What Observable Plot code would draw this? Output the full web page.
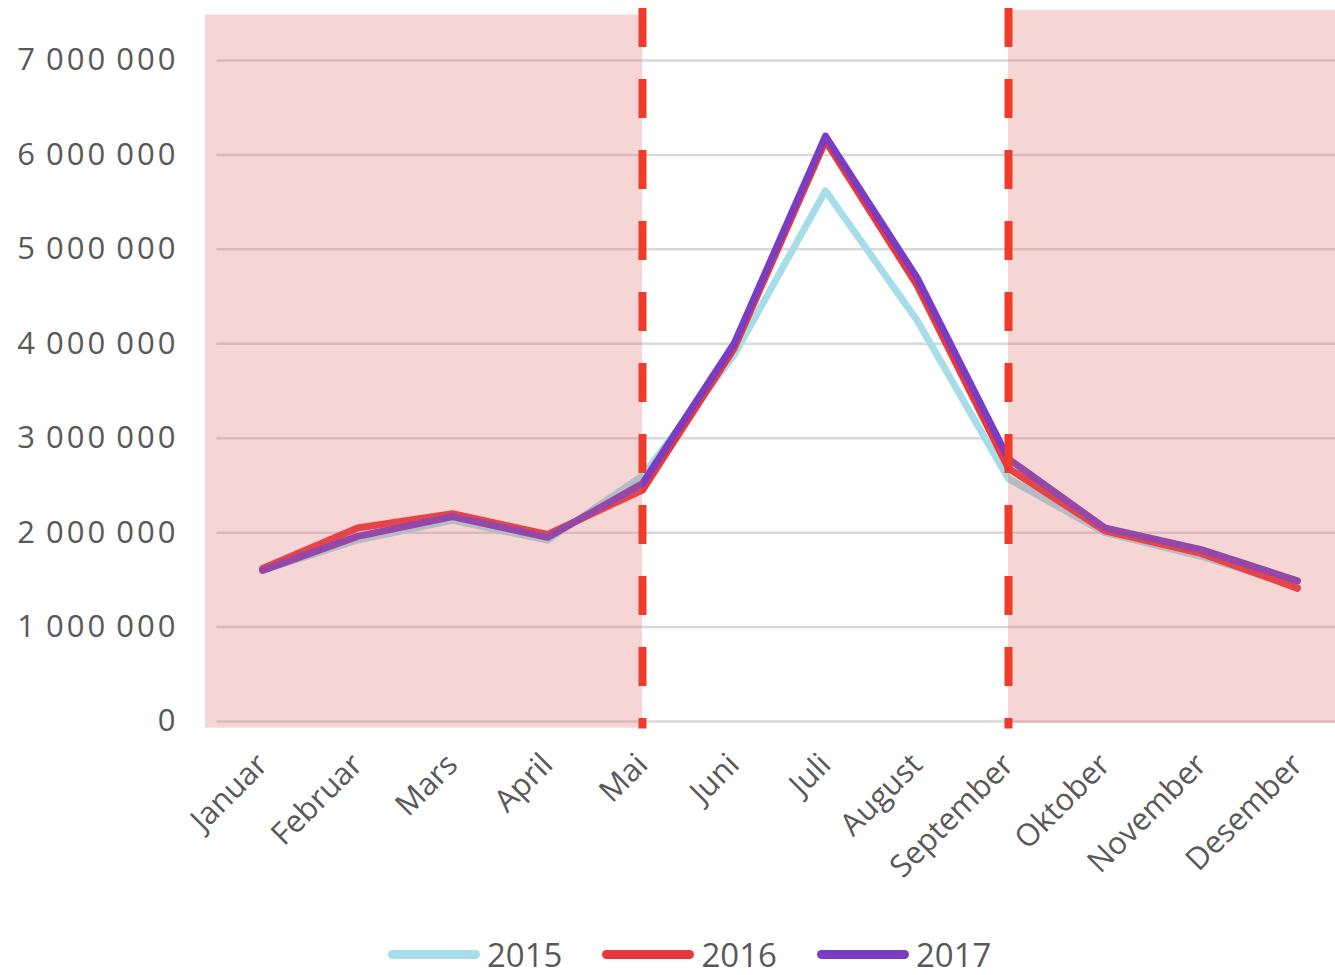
<!DOCTYPE html>
<html><head><meta charset="utf-8">
<script src="https://cdn.jsdelivr.net/npm/d3@7"></script>
<script src="https://cdn.jsdelivr.net/npm/@observablehq/plot@0.6"></script>
<style>
body{margin:0;background:#fff;}
#chart{position:relative;width:1335px;height:975px;}
#legend{position:absolute;left:388px;top:929px;height:50px;display:flex;align-items:center;font-family:"Open Sans";font-size:33px;color:#595959;}
.item{display:flex;align-items:center;margin-right:40px}
.sw{width:92px;height:9px;border-radius:5px;margin-right:7px}
g[aria-label="y-axis tick label"]{letter-spacing:3px}
</style></head><body><div id="chart"></div>
<script>
const months = ["Januar","Februar","Mars","April","Mai","Juni","Juli","August","September","Oktober","November","Desember"];
const years = ["2015","2016","2017"];
const colors = ["#A6DDE8","#E8383D","#7A3CC2"];
const v2015 = [1.60e6,1.92e6,2.13e6,1.92e6,2.60e6,3.88e6,5.62e6,4.25e6,2.57e6,2.00e6,1.75e6,1.43e6];
const v2016 = [1.62e6,2.05e6,2.20e6,1.98e6,2.45e6,3.95e6,6.15e6,4.62e6,2.68e6,2.02e6,1.78e6,1.41e6];
const v2017 = [1.60e6,1.96e6,2.17e6,1.95e6,2.52e6,4.00e6,6.20e6,4.70e6,2.78e6,2.05e6,1.82e6,1.49e6];
const yTicks = [0,1e6,2e6,3e6,4e6,5e6,6e6,7e6];
const shadeFrom = [-0.6, 8];
const shadeTo = [4, 11.4];
const shadeTop = [7.48e6, 7.53e6];
const shadeBottom = [-0.07e6, -0.02e6];
const dividers = ["Mai","September"];

const series = [v2015, v2016, v2017];
const rows = years.flatMap((yr, j) => series[j].map((v, i) => ({year: yr, i, value: v})));
const shades = shadeFrom.map((f, k) => ({from: f, to: shadeTo[k], top: shadeTop[k], bottom: shadeBottom[k]}));
const fmt = d => d3.format(",")(d).replace(/,/g, "\u2009");

const chart = Plot.plot({
  width: 1335, height: 925,
  marginLeft: 203, marginBottom: 198, marginTop: 0, marginRight: 0,
  style: {fontFamily: "Open Sans", background: "transparent", overflow: "visible"},
  x: {type: "linear", domain: [0, 4, 8, 11], range: [262, 642, 1008, 1297]},
  y: {domain: [0, 7e6], range: [721, 60]},
  color: {domain: years, range: colors},
  marks: [
    Plot.ruleY(yTicks, {x1: -0.48, x2: 11.4, stroke: "#D9D9D9", strokeWidth: 2.5}),
    Plot.line(rows, {x: "i", y: "value", z: "year", stroke: "year", strokeWidth: 7, strokeLinejoin: "round", strokeLinecap: "round"}),
    Plot.rect(shades, {x1: "from", x2: "to", y1: "bottom", y2: "top", fill: "#DE6969", fillOpacity: 0.28}),
    Plot.ruleX(dividers.map(m => months.indexOf(m)), {x: d => d, y1: 7.55e6, y2: -0.08e6, stroke: "#EE3B2A", strokeWidth: 8, strokeDasharray: "39,32"}),
    Plot.axisY(yTicks, {tickSize: 0, tickPadding: 25, tickFormat: fmt, fontSize: 31, fill: "#595959"}),
    Plot.axisX(d3.range(12), {tickSize: 0, tickPadding: 32, tickRotate: -45, tickFormat: i => months[i], fontSize: 31, fill: "#595959"})
  ]
});
const host = document.getElementById("chart");
host.appendChild(chart);
const legend = document.createElement("div");
legend.id = "legend";
years.forEach((yr, j) => {
  const item = document.createElement("div");
  item.className = "item";
  const sw = document.createElement("div");
  sw.className = "sw";
  sw.style.background = colors[j];
  const t = document.createElement("span");
  t.textContent = yr;
  item.appendChild(sw); item.appendChild(t);
  legend.appendChild(item);
});
host.appendChild(legend);
</script></body></html>
